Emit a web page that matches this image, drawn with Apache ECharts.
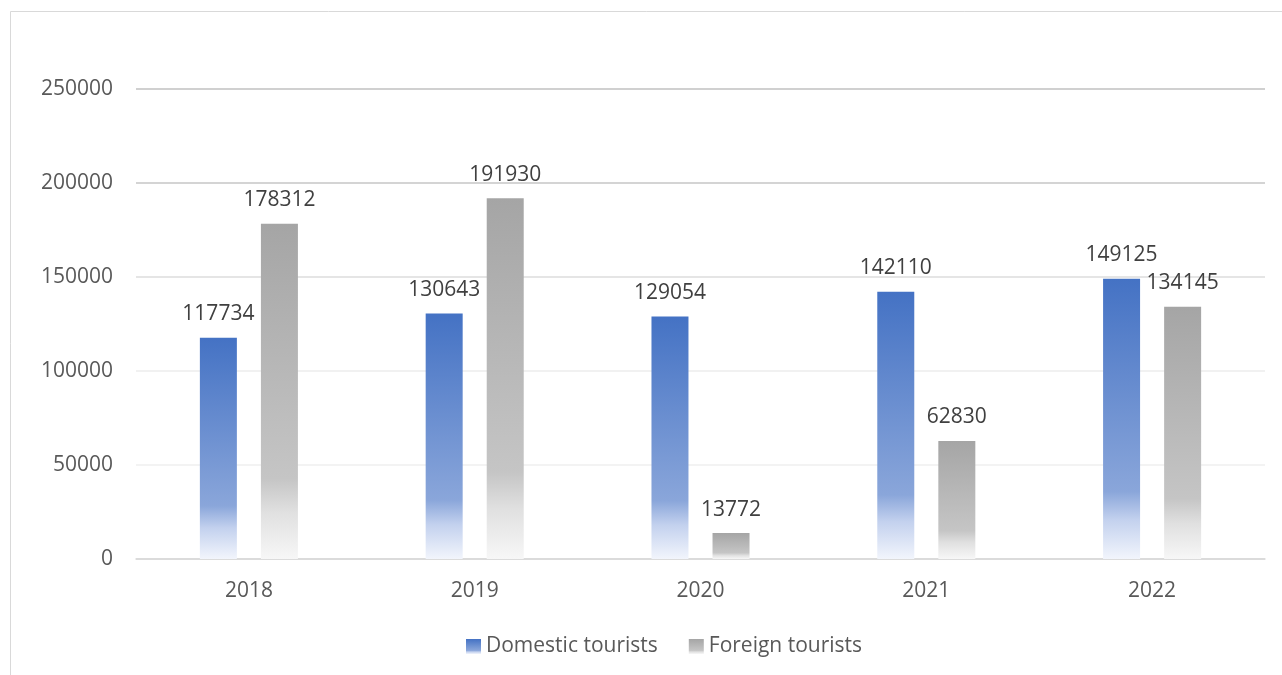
<!DOCTYPE html>
<html>
<head>
<meta charset="utf-8">
<script src="https://cdn.jsdelivr.net/npm/echarts@6/dist/echarts.min.js"></script>
<style>
  html, body { margin: 0; padding: 0; background: #ffffff; }
  #chart { width: 1282px; height: 675px; }
</style>
</head>
<body>
<div id="chart"></div>
<script>
// Tourist arrivals by year
const years = ['2018', '2019', '2020', '2021', '2022'];
const domesticTourists = [117734, 130643, 129054, 142110, 149125];
const foreignTourists = [178312, 191930, 13772, 62830, 134145];
const seriesNames = ['Domestic tourists', 'Foreign tourists'];

const FONT = '"Open Sans", "Liberation Sans", sans-serif';

// Vertical fades: solid at the top of each bar, washing out towards the base
function fade(top, mid, low, bottom) {
  return new echarts.graphic.LinearGradient(0, 0, 0, 1, [
    { offset: 0, color: top },
    { offset: 0.76, color: mid },
    { offset: 0.86, color: low },
    { offset: 1, color: bottom }
  ]);
}
const blueFill = fade('#4472C4', '#8AA6DA', '#C3D1EE', '#F2F5FC');
const greyFill = fade('#A5A5A5', '#C5C5C5', '#E0E0E0', '#F7F7F7');

const valueLabel = {
  show: true,
  position: 'top',
  distance: 13,
  color: '#404040',
  fontFamily: FONT,
  fontSize: 21
};

const chart = echarts.init(document.getElementById('chart'), null, { renderer: 'canvas' });

chart.setOption({
  animation: false,
  backgroundColor: '#ffffff',
  graphic: [{
    type: 'rect',
    shape: { x: 10.5, y: 11.5, width: 1400, height: 800 },
    style: { fill: 'none', stroke: '#D9D9D9', lineWidth: 1 },
    silent: true,
    z: -10
  }],
  grid: { left: 136, right: 17, top: 89, bottom: 116, containLabel: false },
  legend: {
    left: 461,
    top: 631,
    itemWidth: 15,
    itemHeight: 15,
    itemGap: 31,
    icon: 'rect',
    textStyle: { color: '#595959', fontFamily: FONT, fontSize: 21 },
    data: seriesNames
  },
  xAxis: {
    type: 'category',
    data: years,
    axisLine: { show: true, lineStyle: { color: '#D9D9D9', width: 1.5 } },
    axisTick: { show: false },
    axisLabel: { color: '#595959', fontFamily: FONT, fontSize: 21, margin: 22 }
  },
  yAxis: {
    type: 'value',
    min: 0,
    max: 250000,
    interval: 50000,
    axisLine: { show: false },
    axisTick: { show: false },
    axisLabel: {
      color: '#595959',
      fontFamily: FONT,
      fontSize: 21,
      margin: 23,
      formatter: function (v) { return String(v); }
    },
    splitLine: {
      show: true,
      lineStyle: {
        color: ['#D9D9D9', '#EFEFEF', '#EDEDED', '#DCDCDC', '#C6C6C6', '#C0C0C0'],
        width: 1.5
      }
    }
  },
  series: [
    {
      name: seriesNames[0],
      type: 'bar',
      data: domesticTourists,
      barWidth: 37,
      barGap: '65%',
      itemStyle: { color: blueFill },
      label: valueLabel
    },
    {
      name: seriesNames[1],
      type: 'bar',
      data: foreignTourists,
      barWidth: 37,
      barGap: '65%',
      itemStyle: { color: greyFill },
      label: valueLabel
    }
  ]
});
</script>
</body>
</html>
